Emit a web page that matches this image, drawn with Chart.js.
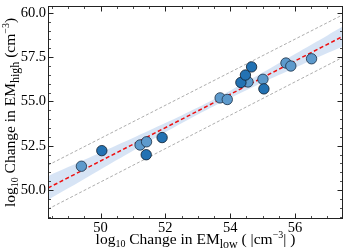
<!DOCTYPE html>
<html>
<head>
<meta charset="utf-8">
<script src="https://cdn.jsdelivr.net/npm/chart.js@4.4.0/dist/chart.umd.min.js"></script>
<style>
  html, body { margin: 0; padding: 0; background: #fff; }
  #wrap { width: 349px; height: 251px; }
</style>
</head>
<body>
<div id="wrap"><canvas id="chart" width="349" height="251"></canvas></div>
<script>
// log10 change in EM (low vs high)
const darkX = [50.04, 51.41, 51.90, 54.33, 54.47, 54.66, 55.04];
const darkY = [52.22, 51.99, 52.96, 56.07, 56.49, 56.95, 55.71];
const lightX = [49.41, 51.22, 51.42, 53.69, 53.91, 54.55, 55.01, 55.72, 55.87, 56.51];
const lightY = [51.34, 52.54, 52.72, 55.20, 55.11, 56.10, 56.25, 57.17, 57.00, 57.41];

// fit line and prediction interval (end points)
const fitX = [48.38, 57.48];
const fitY = [50.11, 58.68];
const predUpperY = [51.40, 59.90];
const predLowerY = [48.92, 57.50];

// confidence band
const bandX = [48.38, 49, 50, 51, 52, 53, 54, 55, 56, 57, 57.48];
const bandLow = [49.44, 50.09, 51.16, 52.22, 53.26, 54.26, 55.19, 56.07, 56.90, 57.73, 58.12];
const bandHigh = [50.78, 51.29, 52.12, 52.94, 53.78, 54.66, 55.61, 56.63, 57.68, 58.73, 59.24];

// axes
const xRange = [48.38, 57.48];
const yRange = [48.36, 60.39];
const xMajor = [50, 52, 54, 56];
const yMajor = [50, 52.5, 55, 57.5, 60];
const xMinor = [48.5, 49, 49.5, 50.5, 51, 51.5, 52.5, 53, 53.5, 54.5, 55, 55.5, 56.5, 57];
const yMinor = [48.5, 49, 49.5, 50.5, 51, 51.5, 52, 53, 53.5, 54, 54.5, 55.5, 56, 56.5, 57, 58, 58.5, 59, 59.5];

const SERIF = '"Liberation Serif", "DejaVu Serif", serif';
const TITLE_SIZE = 15.5;

function pts(xs, ys) {
  return xs.map((x, i) => ({ x: x, y: ys[i] }));
}

// frame with inward ticks on all four sides
const framePlugin = {
  id: 'frame',
  afterDatasetsDraw(chart) {
    const { ctx, chartArea: a, scales: { x, y } } = chart;
    const L = Math.round(a.left) + 0.5, R = Math.round(a.right) - 0.5;
    const T = Math.round(a.top) + 0.5, B = Math.round(a.bottom) - 0.5;
    ctx.save();
    ctx.strokeStyle = '#222';
    ctx.lineWidth = 1;
    ctx.strokeRect(L, T, R - L, B - T);

    function xt(v, len) {
      const p = Math.round(x.getPixelForValue(v)) + 0.5;
      ctx.moveTo(p, B); ctx.lineTo(p, B - len);
      ctx.moveTo(p, T); ctx.lineTo(p, T + len);
    }
    function yt(v, len) {
      const p = Math.round(y.getPixelForValue(v)) + 0.5;
      ctx.moveTo(L, p); ctx.lineTo(L + len, p);
      ctx.moveTo(R, p); ctx.lineTo(R - len, p);
    }
    ctx.beginPath();
    xMajor.forEach(v => xt(v, 5));
    yMajor.forEach(v => yt(v, 5));
    ctx.stroke();
    ctx.beginPath();
    ctx.lineWidth = 0.8;
    xMinor.forEach(v => xt(v, 2.5));
    yMinor.forEach(v => yt(v, 2.5));
    ctx.stroke();
    ctx.restore();
  },
  afterDraw(chart) {
    const { ctx, chartArea: a } = chart;

    // draw a run of text pieces with sub/superscripts
    function runWidth(parts) {
      let w = 0;
      parts.forEach(p => {
        ctx.font = (p.s ? p.s : TITLE_SIZE) + 'px ' + SERIF;
        w += ctx.measureText(p.t).width;
      });
      return w;
    }
    function drawRun(parts, x0, y0) {
      let x = x0;
      parts.forEach(p => {
        ctx.font = (p.s ? p.s : TITLE_SIZE) + 'px ' + SERIF;
        ctx.fillText(p.t, x, y0 + (p.dy || 0));
        x += ctx.measureText(p.t).width;
      });
    }

    const xTitle = [
      { t: 'log' }, { t: '10', s: 10, dy: 3 }, { t: ' Change in EM' },
      { t: 'low', s: 12, dy: 4 }, { t: ' ( |cm' }, { t: '\u22123', s: 10, dy: -6 }, { t: '| )' }
    ];
    const yTitle = [
      { t: 'log' }, { t: '10', s: 10, dy: 3 }, { t: ' Change in EM' },
      { t: 'high', s: 12, dy: 4 }, { t: ' (cm' }, { t: '\u22123', s: 10, dy: -6 }, { t: ')' }
    ];

    ctx.save();
    ctx.fillStyle = '#000';
    ctx.textBaseline = 'alphabetic';
    ctx.textAlign = 'left';
    const cx = (a.left + a.right) / 2;
    const xw = runWidth(xTitle);
    drawRun(xTitle, cx - xw / 2, 244);

    const cy = (a.top + a.bottom) / 2;
    const yw = runWidth(yTitle);
    ctx.translate(15, cy);
    ctx.rotate(-Math.PI / 2);
    drawRun(yTitle, -yw / 2, 0);
    ctx.restore();
  }
};

const ctx = document.getElementById('chart').getContext('2d');
new Chart(ctx, {
  type: 'scatter',
  data: {
    datasets: [
      {
        label: 'dark',
        data: pts(darkX, darkY),
        backgroundColor: '#2372b3',
        borderColor: '#0d1b2a',
        borderWidth: 0.8,
        pointRadius: 5.2,
        order: 0
      },
      {
        label: 'light',
        data: pts(lightX, lightY),
        backgroundColor: '#5d9acc',
        borderColor: '#1c2f44',
        borderWidth: 0.8,
        pointRadius: 5.2,
        order: 1
      },
      {
        type: 'line',
        label: 'fit',
        data: pts(fitX, fitY),
        borderColor: '#ee1111',
        borderWidth: 1.5,
        borderDash: [4, 2.5],
        pointRadius: 0,
        fill: false,
        order: 2
      },
      {
        type: 'line',
        label: 'pred upper',
        data: pts(fitX, predUpperY),
        borderColor: '#8a8a8a',
        borderWidth: 0.7,
        borderDash: [3, 2],
        pointRadius: 0,
        fill: false,
        order: 3
      },
      {
        type: 'line',
        label: 'pred lower',
        data: pts(fitX, predLowerY),
        borderColor: '#8a8a8a',
        borderWidth: 0.7,
        borderDash: [3, 2],
        pointRadius: 0,
        fill: false,
        order: 3
      },
      {
        type: 'line',
        label: 'band low',
        data: pts(bandX, bandLow),
        borderWidth: 0,
        borderColor: 'rgba(0,0,0,0)',
        pointRadius: 0,
        fill: false,
        tension: 0.3,
        order: 5
      },
      {
        type: 'line',
        label: 'band high',
        data: pts(bandX, bandHigh),
        borderWidth: 0,
        borderColor: 'rgba(0,0,0,0)',
        backgroundColor: 'rgba(188, 210, 238, 0.6)',
        pointRadius: 0,
        fill: 5,
        tension: 0.3,
        order: 4
      }
    ]
  },
  options: {
    responsive: false,
    animation: false,
    layout: { padding: { top: 1, right: 1, left: 0, bottom: 0 } },
    plugins: {
      legend: { display: false },
      tooltip: { enabled: false }
    },
    scales: {
      x: {
        type: 'linear',
        min: xRange[0],
        max: xRange[1],
        grid: { display: false, drawTicks: false },
        border: { display: false },
        afterBuildTicks: s => { s.ticks = xMajor.map(v => ({ value: v })); },
        afterFit: s => { s.height = 32; s.paddingLeft = 0; s.paddingRight = 0; },
        ticks: {
          color: '#000',
          padding: 1,
          font: { family: SERIF, size: 14.5, lineHeight: 1.1 },
          maxRotation: 0,
          callback: v => String(v)
        }
      },
      y: {
        type: 'linear',
        min: yRange[0],
        max: yRange[1],
        grid: { display: false, drawTicks: false },
        border: { display: false },
        afterBuildTicks: s => { s.ticks = yMajor.map(v => ({ value: v })); },
        afterFit: s => { s.width = 48; s.paddingTop = 0; s.paddingBottom = 0; },
        ticks: {
          color: '#000',
          padding: 2,
          font: { family: SERIF, size: 14.5 },
          callback: v => v.toFixed(1)
        }
      }
    }
  },
  plugins: [framePlugin]
});
</script>
</body>
</html>
